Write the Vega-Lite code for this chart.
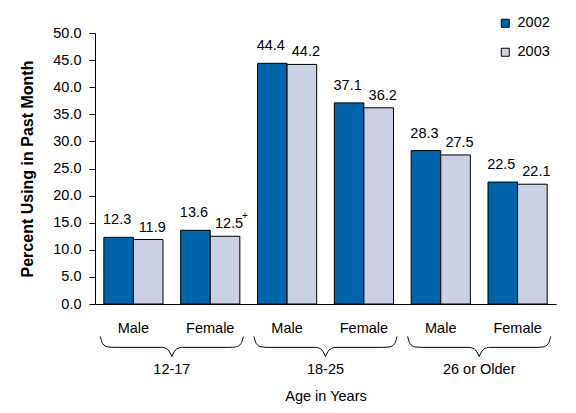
{
  "$schema": "https://vega.github.io/schema/vega-lite/v6.json",
  "width": 461,
  "height": 271,
  "autosize": {"type": "none"},
  "padding": {"left": 95, "top": 33, "right": 20, "bottom": 109},
  "config": {
    "view": {"stroke": null},
    "font": "Liberation Sans",
    "axis": {"labelFont": "Liberation Sans", "titleFont": "Liberation Sans", "labelColor": "black", "titleColor": "black", "domainColor": "black", "tickColor": "black", "grid": false},
    "legend": {"labelFont": "Liberation Sans"}
  },
  "datasets": {
    "bars": [
      {"age": "12-17", "sex": "Male", "group": "12-17|Male", "year": "2002", "value": 12.3, "note": ""},
      {"age": "12-17", "sex": "Male", "group": "12-17|Male", "year": "2003", "value": 11.9, "note": ""},
      {"age": "12-17", "sex": "Female", "group": "12-17|Female", "year": "2002", "value": 13.6, "note": ""},
      {"age": "12-17", "sex": "Female", "group": "12-17|Female", "year": "2003", "value": 12.5, "note": "+"},
      {"age": "18-25", "sex": "Male", "group": "18-25|Male", "year": "2002", "value": 44.4, "note": ""},
      {"age": "18-25", "sex": "Male", "group": "18-25|Male", "year": "2003", "value": 44.2, "note": ""},
      {"age": "18-25", "sex": "Female", "group": "18-25|Female", "year": "2002", "value": 37.1, "note": ""},
      {"age": "18-25", "sex": "Female", "group": "18-25|Female", "year": "2003", "value": 36.2, "note": ""},
      {"age": "26 or Older", "sex": "Male", "group": "26 or Older|Male", "year": "2002", "value": 28.3, "note": ""},
      {"age": "26 or Older", "sex": "Male", "group": "26 or Older|Male", "year": "2003", "value": 27.5, "note": ""},
      {"age": "26 or Older", "sex": "Female", "group": "26 or Older|Female", "year": "2002", "value": 22.5, "note": ""},
      {"age": "26 or Older", "sex": "Female", "group": "26 or Older|Female", "year": "2003", "value": 22.1, "note": ""}
    ],
    "braces": [
      {"group": "12-17|Male", "part": "a-L", "off": -0.06, "value": -6.0}, {"group": "12-17|Male", "part": "a-L", "off": -0.02, "value": -7.3}, {"group": "12-17|Male", "part": "a-L", "off": 0.06, "value": -7.9}, {"group": "12-17|Male", "part": "a-L", "off": 0.19, "value": -8.0}, {"group": "12-17|Male", "part": "a-L", "off": 0.97, "value": -8.0}, {"group": "12-17|Male", "part": "a-L", "off": 1.07, "value": -8.3}, {"group": "12-17|Male", "part": "a-L", "off": 1.15, "value": -9.7},
      {"group": "12-17|Female", "part": "a-R", "off": -0.15, "value": -9.7}, {"group": "12-17|Female", "part": "a-R", "off": -0.07, "value": -8.3}, {"group": "12-17|Female", "part": "a-R", "off": 0.03, "value": -8.0}, {"group": "12-17|Female", "part": "a-R", "off": 0.81, "value": -8.0}, {"group": "12-17|Female", "part": "a-R", "off": 0.94, "value": -7.9}, {"group": "12-17|Female", "part": "a-R", "off": 1.02, "value": -7.3}, {"group": "12-17|Female", "part": "a-R", "off": 1.06, "value": -6.0},
      {"group": "18-25|Male", "part": "b-L", "off": -0.06, "value": -6.0}, {"group": "18-25|Male", "part": "b-L", "off": -0.02, "value": -7.3}, {"group": "18-25|Male", "part": "b-L", "off": 0.06, "value": -7.9}, {"group": "18-25|Male", "part": "b-L", "off": 0.19, "value": -8.0}, {"group": "18-25|Male", "part": "b-L", "off": 0.97, "value": -8.0}, {"group": "18-25|Male", "part": "b-L", "off": 1.07, "value": -8.3}, {"group": "18-25|Male", "part": "b-L", "off": 1.15, "value": -9.7},
      {"group": "18-25|Female", "part": "b-R", "off": -0.15, "value": -9.7}, {"group": "18-25|Female", "part": "b-R", "off": -0.07, "value": -8.3}, {"group": "18-25|Female", "part": "b-R", "off": 0.03, "value": -8.0}, {"group": "18-25|Female", "part": "b-R", "off": 0.81, "value": -8.0}, {"group": "18-25|Female", "part": "b-R", "off": 0.94, "value": -7.9}, {"group": "18-25|Female", "part": "b-R", "off": 1.02, "value": -7.3}, {"group": "18-25|Female", "part": "b-R", "off": 1.06, "value": -6.0},
      {"group": "26 or Older|Male", "part": "c-L", "off": -0.06, "value": -6.0}, {"group": "26 or Older|Male", "part": "c-L", "off": -0.02, "value": -7.3}, {"group": "26 or Older|Male", "part": "c-L", "off": 0.06, "value": -7.9}, {"group": "26 or Older|Male", "part": "c-L", "off": 0.19, "value": -8.0}, {"group": "26 or Older|Male", "part": "c-L", "off": 0.97, "value": -8.0}, {"group": "26 or Older|Male", "part": "c-L", "off": 1.07, "value": -8.3}, {"group": "26 or Older|Male", "part": "c-L", "off": 1.15, "value": -9.7},
      {"group": "26 or Older|Female", "part": "c-R", "off": -0.15, "value": -9.7}, {"group": "26 or Older|Female", "part": "c-R", "off": -0.07, "value": -8.3}, {"group": "26 or Older|Female", "part": "c-R", "off": 0.03, "value": -8.0}, {"group": "26 or Older|Female", "part": "c-R", "off": 0.81, "value": -8.0}, {"group": "26 or Older|Female", "part": "c-R", "off": 0.94, "value": -7.9}, {"group": "26 or Older|Female", "part": "c-R", "off": 1.02, "value": -7.3}, {"group": "26 or Older|Female", "part": "c-R", "off": 1.06, "value": -6.0}
    ]
  },
  "data": {"name": "bars"},
  "encoding": {
    "x": {"field": "group", "type": "nominal", "sort": ["12-17|Male", "12-17|Female", "18-25|Male", "18-25|Female", "26 or Older|Male", "26 or Older|Female"],
      "scale": {"type": "band", "paddingInner": 0.23, "paddingOuter": 0.115},
      "axis": {"orient": "bottom", "title": "Age in Years", "titleFontSize": 14.5, "titleFontWeight": "normal", "titlePadding": 55,
        "ticks": false, "labelPadding": 17, "labelAngle": 0,
        "labelExpr": "split(datum.value, '|')[1]", "labelFontSize": 14.5}},
    "xOffset": {"field": "year", "type": "nominal", "scale": {"type": "band", "domain": ["2002", "2003"], "paddingInner": 0, "paddingOuter": 0}},
    "y": {"field": "value", "type": "quantitative", "scale": {"domain": [0, 50], "nice": false},
      "axis": {"title": "Percent Using in Past Month", "titleFontSize": 16, "titleFontWeight": "bold", "titlePadding": 17,
        "values": [0, 5, 10, 15, 20, 25, 30, 35, 40, 45, 50], "format": ".1f", "labelFontSize": 14.5, "tickSize": 6, "labelPadding": 8}}
  },
  "layer": [
    {
      "mark": {"type": "bar", "stroke": "black", "strokeWidth": 1},
      "encoding": {
        "color": {"field": "year", "type": "nominal",
          "scale": {"domain": ["2002", "2003"], "range": ["#0064A8", "#C9D1E3"]},
          "legend": {"title": null, "orient": "none", "legendX": 403, "legendY": -17, "symbolType": "square", "symbolSize": 64,
            "symbolStrokeColor": "black", "symbolStrokeWidth": 1, "labelFontSize": 14.5, "rowPadding": 14, "labelOffset": 5}}
      }
    },
    {
      "transform": [{"filter": "datum.year == '2002'"}],
      "mark": {"type": "text", "baseline": "alphabetic", "dx": -1.5, "dy": -13, "fontSize": 14.5, "color": "black"},
      "encoding": {"text": {"field": "value", "type": "quantitative", "format": ".1f"}}
    },
    {
      "transform": [{"filter": "datum.year == '2003'"}],
      "mark": {"type": "text", "baseline": "alphabetic", "dx": 4, "dy": -8, "fontSize": 14.5, "color": "black"},
      "encoding": {"text": {"field": "value", "type": "quantitative", "format": ".1f"}}
    },
    {
      "transform": [{"filter": "datum.note != ''"}],
      "mark": {"type": "text", "baseline": "alphabetic", "dx": 20, "dy": -17, "fontSize": 10, "color": "black"},
      "encoding": {"text": {"field": "note", "type": "nominal"}}
    },
    {
      "data": {"name": "braces"},
      "mark": {"type": "line", "color": "black", "strokeWidth": 1, "interpolate": "monotone"},
      "encoding": {
        "xOffset": {"field": "off", "type": "quantitative", "scale": {"domain": [0, 1], "nice": false, "zero": false}},
        "detail": {"field": "part", "type": "nominal"},
        "order": {"field": "off", "type": "quantitative"}
      }
    },
    {
      "transform": [{"filter": "datum.year == '2002' && datum.sex == 'Male'"}],
      "mark": {"type": "text", "baseline": "alphabetic", "fontSize": 14.5, "color": "black"},
      "encoding": {
        "xOffset": {"datum": 1.15, "type": "quantitative", "scale": {"domain": [0, 1], "nice": false, "zero": false}},
        "y": {"datum": -12.9, "type": "quantitative", "scale": {"domain": [0, 50], "nice": false},
          "axis": {"title": "Percent Using in Past Month", "titleFontSize": 16, "titleFontWeight": "bold", "titlePadding": 17,
            "values": [0, 5, 10, 15, 20, 25, 30, 35, 40, 45, 50], "format": ".1f", "labelFontSize": 14.5, "tickSize": 6, "labelPadding": 8}},
        "text": {"field": "age", "type": "nominal"}
      }
    }
  ],
  "resolve": {"scale": {"xOffset": "independent"}}
}
